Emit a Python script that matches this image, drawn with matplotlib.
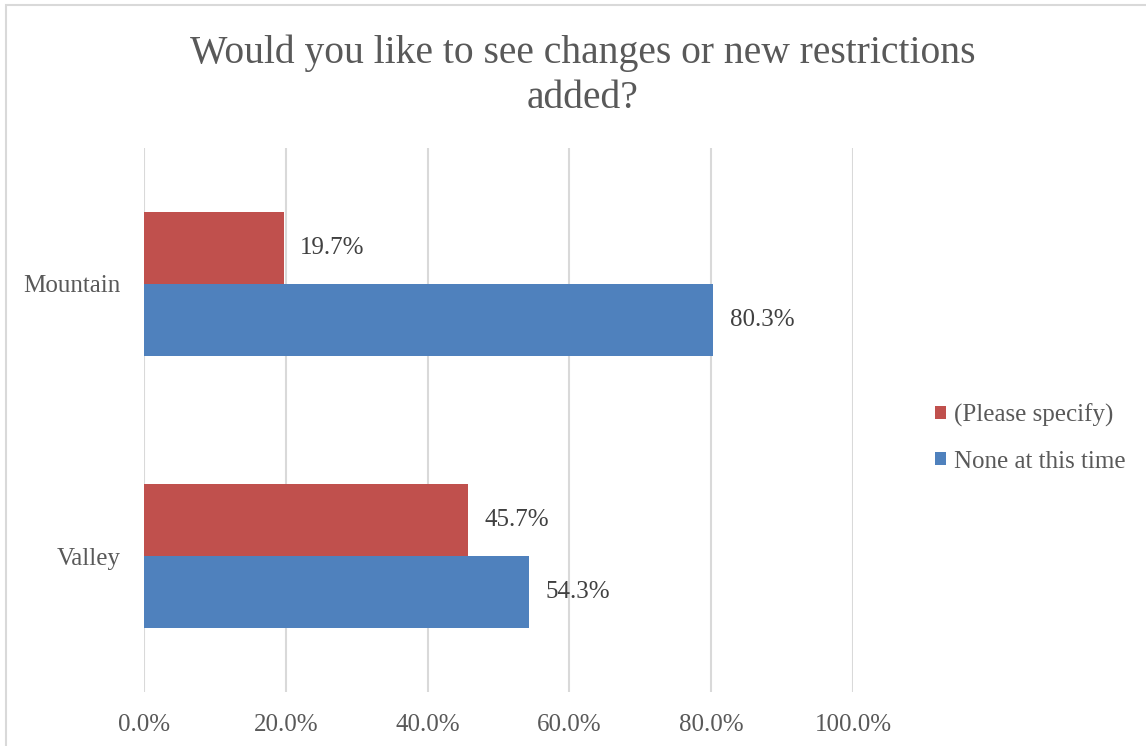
import matplotlib
matplotlib.use("Agg")
import matplotlib.pyplot as plt
from matplotlib.patches import Rectangle

categories = ["Valley", "Mountain"]
please_specify = [45.7, 19.7]
none_at_this_time = [54.3, 80.3]
series_names = ["(Please specify)", "None at this time"]
xticks = [0, 20, 40, 60, 80, 100]
xtick_labels = ["0.0%", "20.0%", "40.0%", "60.0%", "80.0%", "100.0%"]
title = "Would you like to see changes or new restrictions\nadded?"

plt.rcParams['font.family'] = ['Liberation Serif', 'DejaVu Serif']

RED = "#c0504d"
BLUE = "#4f81bd"
TXT = "#595959"
LBL = "#404040"
GRID = "#d9d9d9"

fig = plt.figure(figsize=(11.46, 7.46), dpi=100)
fig.patches.append(Rectangle((5.5/1146, -0.1), 1.2, 1 - 5.5/746 + 0.1, transform=fig.transFigure,
                             fill=False, edgecolor=GRID, linewidth=1.5, zorder=0))

ax = fig.add_axes([144/1146, 1 - 692/746, (853 - 144)/1146, (692 - 148)/746])
h = 0.263
ys = list(range(len(categories)))
b1 = ax.barh([y + h/2 for y in ys], please_specify, height=h, color=RED, label=series_names[0], zorder=3)
b2 = ax.barh([y - h/2 for y in ys], none_at_this_time, height=h, color=BLUE, label=series_names[1], zorder=3)

for bars, vals in ((b1, please_specify), (b2, none_at_this_time)):
    for bar, v in zip(bars, vals):
        ax.annotate(f"{v:.1f}%", (v, bar.get_y() + bar.get_height()/2), xytext=(12, 0),
                    textcoords="offset points", ha="left", va="center", fontsize=18, color=LBL)

ax.set_xlim(0, 100)
ax.set_ylim(-0.5, 1.5)
ax.set_xticks(xticks)
ax.set_xticklabels(xtick_labels, fontsize=18, color=TXT)
ax.set_yticks(ys)
ax.set_yticklabels(categories, fontsize=18, color=TXT)
ax.tick_params(axis='both', length=0)
ax.tick_params(axis='x', pad=16)
ax.tick_params(axis='y', pad=17)
ax.xaxis.grid(True, color=GRID, linewidth=1.5, zorder=0)
ax.set_axisbelow(True)
for s in ax.spines.values():
    s.set_visible(False)

fig.text(583/1146, 1 - 76/746, title, ha="center", va="center", fontsize=28.5, color=TXT,
         linespacing=1.3)

handles = [b1, b2]
leg = fig.legend(handles, series_names, loc="center left", bbox_to_anchor=(925/1146, 1 - 438/746),
                 frameon=False, fontsize=18, handlelength=0.45, handleheight=0.45, handletextpad=0.3,
                 labelspacing=0.95, borderaxespad=0, labelcolor=TXT)

fig.savefig("out.png", dpi=100)
